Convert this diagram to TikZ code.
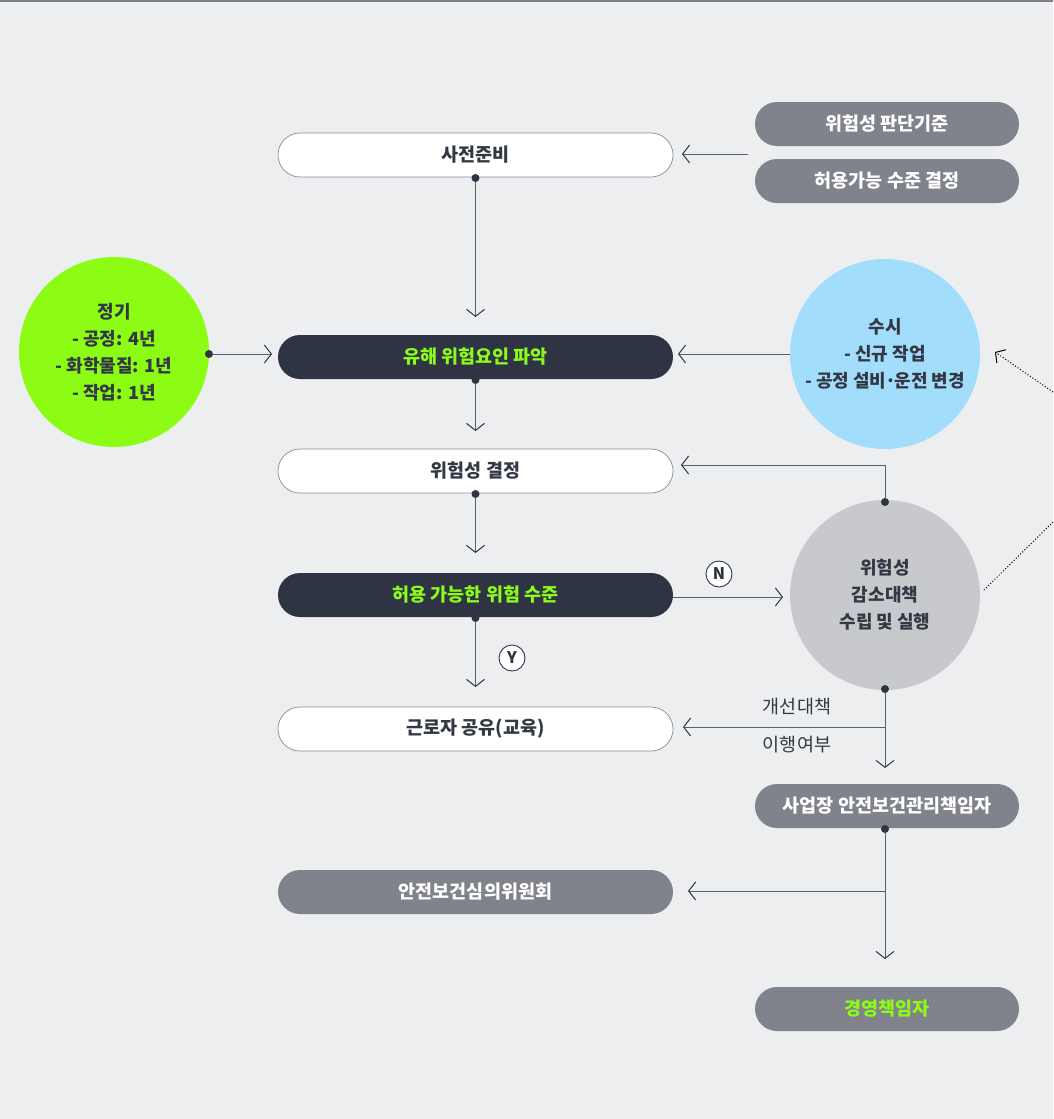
\documentclass[tikz,border=0pt]{standalone}
\usepackage{fontspec}
\setmainfont{Noto Sans CJK KR}
\usetikzlibrary{arrows.meta}
\definecolor{bg}{HTML}{EDEEF0}
\definecolor{topline}{HTML}{7D7F8C}
\definecolor{dark}{HTML}{2E3443}
\definecolor{pillgray}{HTML}{80828C}
\definecolor{lime}{HTML}{8CFC14}
\definecolor{sky}{HTML}{A2DEFC}
\definecolor{lgray}{HTML}{C8C9CD}
\definecolor{linec}{HTML}{5C606C}
\definecolor{bordc}{HTML}{8A8C96}
\definecolor{txtgreen}{HTML}{8CFA1A}
\definecolor{txtdark}{HTML}{333844}
\tikzset{
  x=1pt, y=-1pt,
  box/.style={rounded corners=22pt, minimum width=395pt, minimum height=44pt, inner sep=0pt,
    font=\fontsize{18.5}{22}\selectfont\bfseries},
  whitebox/.style={box, fill=white, draw=bordc, line width=0.7pt, text=txtdark},
  darkbox/.style={box, fill=dark, text=txtgreen},
  graybox/.style={box, fill=pillgray, text=white, minimum width=264pt},
  bigcircle/.style={circle, minimum size=190pt, inner sep=0pt, align=center, text=txtdark,
    font=\fontsize{18}{27}\selectfont\bfseries},
  conn/.style={draw=linec, line width=1pt},
  arr/.style={conn, -{Straight Barb[length=7pt,width=18pt,line width=1pt,color=dark]}},
  dotc/.style={circle, fill=dark, minimum size=8pt, inner sep=0pt},
  yn/.style={circle, draw=dark, fill=white, line width=0.9pt, minimum size=26pt, inner sep=0pt,
    text=dark, font=\fontsize{16}{16}\selectfont\bfseries},
  lbl/.style={text=txtdark, font=\fontsize{18.5}{22}\selectfont},
}
\begin{document}
\begin{tikzpicture}
\fill[bg] (0,0) rectangle (1053,1119);
\useasboundingbox (0,0) rectangle (1053,1119);
\fill[topline] (0,0) rectangle (1053,2);

% nodes
\node[whitebox] (prep) at (475.5,155) {사전준비};
\node[graybox] (crit) at (887,124) {위험성 판단기준};
\node[graybox] (accept) at (887,181) {허용가능 수준 결정};
\node[darkbox] (ident) at (475.5,357) {유해 위험요인 파악};
\node[bigcircle, fill=lime] (reg) at (114,352) {정기\\- 공정: 4년\\- 화학물질: 1년\\- 작업: 1년};
\node[bigcircle, fill=sky] (occ) at (885,354) {수시\\- 신규 작업\\- 공정 설비\kern-0.08em·\kern-0.08em운전 변경};
\node[whitebox] (decide) at (475.5,471) {위험성 결정};
\node[bigcircle, fill=lgray] (reduce) at (885,595) {위험성\\감소대책\\수립 및 실행};
\node[darkbox] (level) at (475.5,595) {허용 가능한 위험 수준};
\node[whitebox] (share) at (475.5,729) {근로자 공유(교육)};
\node[graybox] (mgr) at (887,806) {사업장 안전보건관리책임자};
\node[box, fill=pillgray, text=white] (comm) at (475.5,892) {안전보건심의위원회};
\node[graybox, text=txtgreen] (ceo) at (887,1009) {경영책임자};

\node[yn] (N) at (719,574) {N};
\node[yn] (Y) at (512,658) {Y};

% dots
\node[dotc] (d1) at (475.5,178) {};
\node[dotc] (d2) at (209,354) {};
\node[dotc] (d3) at (475.5,380) {};
\node[dotc] (d4) at (475.5,494) {};
\node[dotc] (d5) at (885,502) {};
\node[dotc] (d6) at (475.5,618) {};
\node[dotc] (d7) at (885,689) {};
\node[dotc] (d8) at (885,829) {};

% coordinates
\coordinate (a1) at (748,154);
\coordinate (a1e) at (682,154);
\coordinate (a2e) at (475.5,317);
\coordinate (a3e) at (272,354);
\coordinate (a4s) at (790,354);
\coordinate (a4e) at (678,354);
\coordinate (a5e) at (475.5,431);
\coordinate (a6c) at (885,465);
\coordinate (a6e) at (681,465);
\coordinate (a7e) at (475.5,553);
\coordinate (a8s) at (673,597);
\coordinate (a8e) at (783,597);
\coordinate (a9e) at (475.5,687);
\coordinate (b1) at (885,727);
\coordinate (b1e) at (683,727);
\coordinate (b2e) at (885,768);
\coordinate (c1) at (885,891);
\coordinate (c1e) at (688,891);
\coordinate (c2e) at (885,959);
\coordinate (dt1s) at (1053,392);
\coordinate (dt1e) at (995,352);
\coordinate (dt2s) at (1053,522);
\coordinate (dt2e) at (983,591);

% connectors
\draw[arr] (a1) -- (a1e);
\draw[arr] (d1) -- (a2e);
\draw[arr] (d2) -- (a3e);
\draw[arr] (a4s) -- (a4e);
\draw[arr] (d3) -- (a5e);
\draw[arr] (d5) -- (a6c) -- (a6e);
\draw[arr] (d4) -- (a7e);
\draw[arr] (a8s) -- (a8e);
\draw[arr] (d6) -- (a9e);
\draw[arr] (d7) -- (b2e);
\draw[arr] (b1) -- (b1e);
\draw[arr] (d8) -- (c2e);
\draw[arr] (c1) -- (c1e);
\draw[black, line width=1pt, dotted, -{Straight Barb[length=7pt,width=16pt,line width=1pt]}] (dt1s) -- (dt1e);
\draw[black, line width=1pt, dotted] (dt2s) -- (dt2e);

\node[lbl] (l1) at (797,707) {개선대책};
\node[lbl] (l2) at (797,745) {이행여부};
\end{tikzpicture}
\end{document}
